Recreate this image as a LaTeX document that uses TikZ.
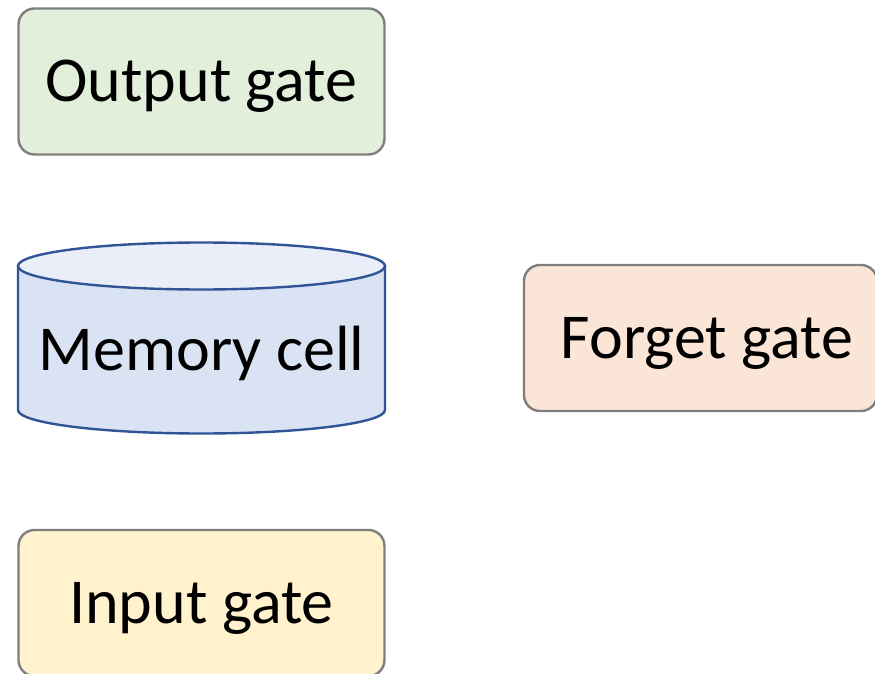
\documentclass[tikz,border=0pt]{standalone}
\usepackage{fontspec}
\setmainfont{Carlito}
\definecolor{boxgray}{HTML}{7F7F7F}
\definecolor{outfill}{HTML}{E2EFDA}
\definecolor{forgetfill}{HTML}{FBE5D6}
\definecolor{infill}{HTML}{FFF2CC}
\definecolor{cellbody}{HTML}{DAE3F3}
\definecolor{celltop}{HTML}{E9EEF8}
\definecolor{cellline}{HTML}{2F5597}
\begin{document}
\begin{tikzpicture}[x=1pt,y=-1pt,
  gatebox/.style={draw=boxgray, line width=2.4pt, rounded corners=16pt,
    minimum width=366pt, minimum height=146pt, inner sep=0pt},
  gatetext/.style={inner sep=0pt, font=\fontsize{64}{72}\selectfont},
  cell/.style={draw=cellline, line width=2.4pt}]
\useasboundingbox (0,0) rectangle (875,674);

% Output gate
\node[gatebox, fill=outfill] (out) at (201.5,81.5) {};
\node[gatetext] (outtext) at (201.5,86) {Output gate};

% Memory cell drawn as a cylinder
\path[cell, fill=cellbody] (18,266) -- (18,410)
  arc[start angle=180, end angle=0, x radius=183.5, y radius=23.5]
  -- (385,266) -- cycle;
\path[cell, fill=celltop] (201.5,266) ellipse[x radius=183.5, y radius=23.5];
\node[gatetext] (mem) at (201.5,353) {Memory cell};

% Forget gate
\node[gatebox, fill=forgetfill, minimum width=353pt] (forget) at (700.5,338) {};
\node[gatetext] (forgettext) at (707,343) {Forget gate};

% Input gate
\node[gatebox, fill=infill] (in) at (201.5,603) {};
\node[gatetext] (intext) at (201.5,608) {Input gate};
\end{tikzpicture}
\end{document}
